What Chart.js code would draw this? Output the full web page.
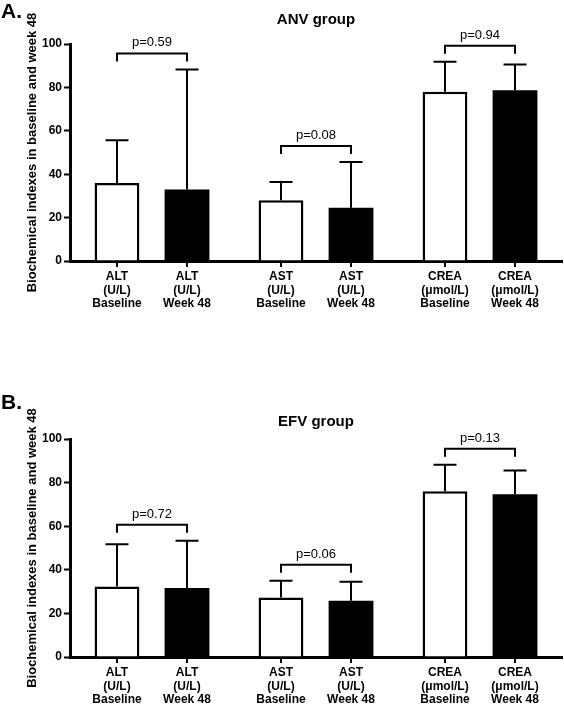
<!DOCTYPE html>
<html>
<head>
<meta charset="utf-8">
<script src="https://cdn.jsdelivr.net/npm/chart.js@4"></script>
<style>
  body { margin: 0; background: #fff; }
  #wrap { position: relative; width: 564px; height: 705px; }
  .panel { position: absolute; left: 0; width: 564px; }
</style>
</head>
<body>
<div id="wrap">
  <div class="panel" style="top:0;height:340px"><canvas id="chartA" width="564" height="340"></canvas></div>
  <div class="panel" style="top:340px;height:365px"><canvas id="chartB" width="564" height="365"></canvas></div>
</div>
<script>
const analytes = ["ALT", "AST", "CREA"];
const units = ["(U/L)", "(U/L)", "(μmol/L)"];
const timepoints = ["Baseline", "Week 48"];
const yTicks = [0, 20, 40, 60, 80, 100];
const yTitle = "Biochemical indexes in baseline and week 48";

// ANV group (mean and SD)
const anvBaseline = [36, 28, 78];
const anvWeek48 = [33, 24.5, 78.7];
const anvBaselineSD = [19.6, 8.4, 13.8];
const anvWeek48SD = [55.3, 21.1, 11.9];
const anvP = ["p=0.59", "p=0.08", "p=0.94"];

// EFV group (mean and SD)
const efvBaseline = [32.3, 27.3, 76];
const efvWeek48 = [31.6, 25.8, 74.6];
const efvBaselineSD = [19.4, 7.7, 12.2];
const efvWeek48SD = [21.7, 8.7, 10.9];
const efvP = ["p=0.72", "p=0.06", "p=0.13"];

const FONT = "'Liberation Sans', Arial, sans-serif";
Chart.defaults.font.family = FONT;
Chart.defaults.color = "#000";

function makeChart(id, cfg) {
  const sds = [cfg.baseSD, cfg.weekSD];
  const means = [cfg.base, cfg.week];

  const extras = {
    id: "extras" + id,
    afterDatasetsDraw(chart) {
      const ctx = chart.ctx;
      const y = chart.scales.y;
      const area = chart.chartArea;
      const m0 = chart.getDatasetMeta(0).data;
      const m1 = chart.getDatasetMeta(1).data;
      ctx.save();
      ctx.strokeStyle = "#000";
      ctx.lineWidth = 2;
      // error bars (upper only)
      [m0, m1].forEach((bars, d) => {
        bars.forEach((bar, i) => {
          const top = y.getPixelForValue(means[d][i] + sds[d][i]);
          ctx.beginPath();
          ctx.moveTo(bar.x, bar.y);
          ctx.lineTo(bar.x, top);
          ctx.moveTo(bar.x - 11.5, top);
          ctx.lineTo(bar.x + 11.5, top);
          ctx.stroke();
        });
      });
      // significance brackets
      ctx.fillStyle = "#000";
      ctx.font = "13px " + FONT;
      ctx.textAlign = "center";
      ctx.textBaseline = "middle";
      analytes.forEach((a, i) => {
        const hi = Math.max(means[0][i] + sds[0][i], means[1][i] + sds[1][i]);
        const yb = y.getPixelForValue(hi) - 16;
        const lx = m0[i].x, rx = m1[i].x;
        ctx.beginPath();
        ctx.moveTo(lx, yb + 8);
        ctx.lineTo(lx, yb);
        ctx.lineTo(rx, yb);
        ctx.lineTo(rx, yb + 8);
        ctx.stroke();
        ctx.fillText(cfg.p[i], (lx + rx) / 2, yb - 10.5);
      });
      // x tick marks and labels under each bar
      ctx.font = "bold 12px " + FONT;
      [m0, m1].forEach((bars, d) => {
        bars.forEach((bar, i) => {
          ctx.beginPath();
          ctx.moveTo(bar.x, area.bottom);
          ctx.lineTo(bar.x, area.bottom + 6);
          ctx.stroke();
          const lines = [analytes[i], units[i], timepoints[d]];
          lines.forEach((t, k) => ctx.fillText(t, bar.x, area.bottom + 16 + k * 13.5));
        });
      });
      ctx.restore();
    },
    afterDraw(chart) {
      const ctx = chart.ctx;
      const area = chart.chartArea;
      ctx.save();
      ctx.fillStyle = "#000";
      ctx.textBaseline = "middle";
      ctx.font = "bold 15px " + FONT;
      ctx.textAlign = "center";
      ctx.fillText(cfg.title, (area.left + area.right) / 2, cfg.titleY);
      ctx.font = "bold 21px " + FONT;
      ctx.textAlign = "left";
      ctx.fillText(cfg.letter, 1, cfg.letterY);
      ctx.translate(32, (area.top + area.bottom) / 2);
      ctx.rotate(-Math.PI / 2);
      ctx.font = "bold 13px " + FONT;
      ctx.textAlign = "center";
      ctx.fillText(yTitle, 0, 0);
      ctx.restore();
    }
  };

  return new Chart(document.getElementById(id), {
    type: "bar",
    data: {
      labels: analytes,
      datasets: [
        {
          label: timepoints[0],
          data: cfg.base,
          backgroundColor: "#fff",
          borderColor: "#000",
          borderWidth: 2.5,
          borderSkipped: "bottom"
        },
        {
          label: timepoints[1],
          data: cfg.week,
          backgroundColor: "#000",
          borderColor: "#000",
          borderWidth: 0
        }
      ]
    },
    options: {
      responsive: false,
      animation: false,
      categoryPercentage: 0.854,
      barPercentage: 0.64,
      layout: { padding: { top: cfg.top, bottom: cfg.bottom, left: 0, right: 2 } },
      plugins: { legend: { display: false }, tooltip: { enabled: false }, title: { display: false } },
      scales: {
        x: {
          grid: { display: false },
          ticks: { display: false },
          border: { display: true, color: "#000", width: 3 },
          afterFit(scale) { scale.height = 0; }
        },
        y: {
          min: 0,
          max: 100,
          afterBuildTicks(scale) { scale.ticks = yTicks.map(v => ({ value: v })); },
          ticks: { font: { size: 12, weight: "bold" }, color: "#000", padding: 2 },
          grid: { drawOnChartArea: false, drawTicks: true, tickLength: 6, tickColor: "#000", tickWidth: 2 },
          border: { display: true, color: "#000", width: 3 },
          afterFit(scale) { scale.width = 70; }
        }
      }
    },
    plugins: [extras]
  });
}

makeChart("chartA", {
  base: anvBaseline, week: anvWeek48, baseSD: anvBaselineSD, weekSD: anvWeek48SD, p: anvP,
  title: "ANV group", letter: "A.", titleY: 20, letterY: 12, top: 44, bottom: 340 - 261
});
makeChart("chartB", {
  base: efvBaseline, week: efvWeek48, baseSD: efvBaselineSD, weekSD: efvWeek48SD, p: efvP,
  title: "EFV group", letter: "B.", titleY: 82, letterY: 63, top: 99, bottom: 365 - 317
});
</script>
</body>
</html>
